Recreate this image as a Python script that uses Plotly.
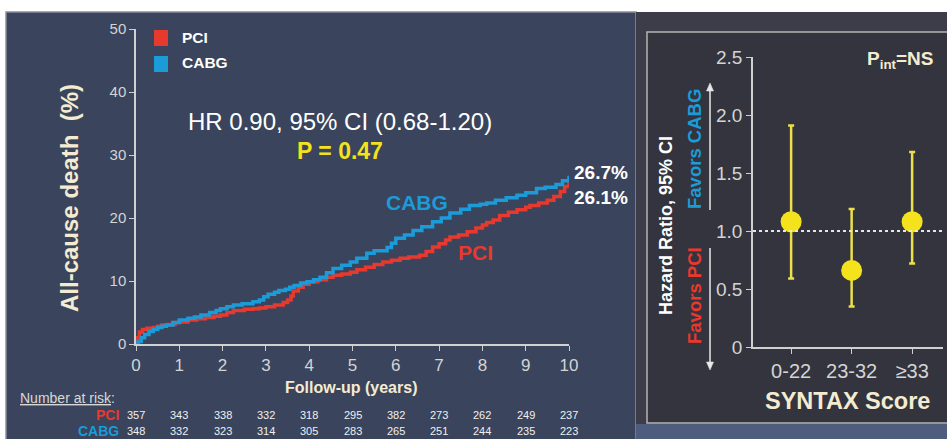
import plotly.graph_objects as go

W, H = 947, 439

# Kaplan-Meier curves: all-cause death (%) over follow-up (years)
pci_years = [0.0, 0.03, 0.08, 0.15, 0.25, 0.4, 0.5, 0.6, 0.75, 0.9, 1.0, 1.2, 1.4, 1.6, 1.8, 1.95,
             2.1, 2.25, 2.5, 2.7, 2.85, 3.0, 3.2, 3.4, 3.5, 3.58, 3.63, 3.75, 3.86, 4.0, 4.2, 4.4,
             4.55, 4.75, 4.95, 5.1, 5.3, 5.5, 5.7, 5.9, 6.1, 6.3, 6.55, 6.7, 6.85, 7.0, 7.15, 7.25,
             7.45, 7.65, 7.85, 8.0, 8.1, 8.25, 8.4, 8.6, 8.8, 9.0, 9.1, 9.3, 9.5, 9.65, 9.8, 9.9, 10.0]
pci_death = [0.0, 1.0, 1.9, 2.3, 2.5, 2.6, 2.8, 3.0, 3.1, 3.4, 3.5, 3.8, 4.0, 4.2, 4.4, 4.6,
             5.0, 5.3, 5.5, 5.6, 5.7, 5.9, 6.2, 6.6, 7.0, 7.6, 8.4, 9.0, 9.5, 9.9, 10.2, 10.6,
             10.9, 11.1, 11.4, 11.8, 12.2, 12.6, 13.0, 13.3, 13.6, 13.8, 14.1, 14.7, 15.4, 15.9, 16.5, 17.0,
             17.3, 17.8, 18.4, 18.9, 19.3, 19.7, 20.4, 20.9, 21.3, 21.7, 22.0, 22.4, 22.8, 23.4, 24.2, 25.0, 26.1]

cabg_years = [0.0, 0.05, 0.12, 0.2, 0.3, 0.4, 0.5, 0.6, 0.7, 0.85, 1.0, 1.2, 1.35, 1.5, 1.7, 1.85,
              1.95, 2.1, 2.25, 2.45, 2.7, 2.85, 2.95, 3.05, 3.2, 3.3, 3.45, 3.55, 3.65, 3.8, 3.95, 4.1,
              4.25, 4.4, 4.55, 4.75, 4.95, 5.1, 5.33, 5.5, 5.8, 5.9, 6.0, 6.2, 6.4, 6.6, 6.85, 7.05,
              7.25, 7.5, 7.7, 7.95, 8.1, 8.3, 8.55, 8.8, 9.0, 9.25, 9.45, 9.7, 9.85, 10.0]
cabg_death = [0.0, 0.4, 1.0, 1.5, 2.0, 2.3, 2.6, 2.8, 3.0, 3.4, 3.8, 4.1, 4.3, 4.6, 5.0, 5.3,
              5.6, 5.9, 6.2, 6.4, 6.7, 7.0, 7.5, 7.9, 8.2, 8.5, 8.7, 9.0, 9.3, 9.7, 9.9, 10.2,
              10.6, 11.3, 12.0, 12.5, 13.0, 13.6, 14.4, 14.8, 15.3, 16.0, 16.8, 17.3, 18.0, 18.6, 19.4, 20.0,
              20.8, 21.4, 22.0, 22.2, 22.4, 22.8, 23.2, 23.6, 24.0, 24.7, 24.9, 25.3, 25.9, 26.7]

# Number at risk table
risk_years = [0, 1, 2, 3, 4, 5, 6, 7, 8, 9, 10]
risk_pci = [357, 343, 338, 332, 318, 295, 382, 273, 262, 249, 237]
risk_cabg = [348, 332, 323, 314, 305, 283, 265, 251, 244, 235, 223]

# Hazard ratios by SYNTAX score tercile
syntax_groups = ["0-22", "23-32", "≥33"]
hr = [1.08, 0.66, 1.08]
ci_low = [0.59, 0.35, 0.72]
ci_high = [1.91, 1.19, 1.68]

RED = "#e8392e"
BLUE = "#1b9bd8"
YELLOW = "#f3e21c"
CREAM = "#f3ecd2"
TICK = "#d4d4d4"
ARROW = "#e8e8e8"


def px(x):
    return x / W


def py(y):
    return 1 - y / H


fig = go.Figure()

fig.add_trace(go.Scatter(x=pci_years, y=pci_death, mode="lines", line=dict(color=RED, width=3.5, shape="hv"),
                         name="PCI", xaxis="x", yaxis="y", showlegend=False))
fig.add_trace(go.Scatter(x=cabg_years, y=cabg_death, mode="lines", line=dict(color=BLUE, width=3.5, shape="hv"),
                         name="CABG", xaxis="x", yaxis="y", showlegend=False))

fig.add_trace(go.Scatter(
    x=syntax_groups, y=hr, mode="markers",
    marker=dict(color=YELLOW, size=21),
    error_y=dict(type="data", symmetric=False,
                 array=[h - m for h, m in zip(ci_high, hr)],
                 arrayminus=[m - l for m, l in zip(hr, ci_low)],
                 color="#ebe04a", thickness=2.5, width=3),
    xaxis="x2", yaxis="y2", showlegend=False))


def arrow_path(x, y_tail, y_head):
    # vertical arrow: shaft plus a small filled head, in paper coordinates
    d = 1 if y_head < y_tail else -1
    shaft = dict(type="line", xref="paper", yref="paper", x0=px(x), x1=px(x),
                 y0=py(y_tail), y1=py(y_head + d * 6), line=dict(color=ARROW, width=1.5))
    head = dict(type="path", xref="paper", yref="paper",
                path=f"M {px(x - 3.5)} {py(y_head + d * 8)} L {px(x + 3.5)} {py(y_head + d * 8)} "
                     f"L {px(x)} {py(y_head)} Z",
                fillcolor=ARROW, line=dict(color=ARROW, width=0.5))
    return [shaft, head]


shapes = [
    # left panel
    dict(type="rect", xref="paper", yref="paper", x0=px(6), x1=px(636), y0=py(441), y1=py(12),
         fillcolor="#3a445c", line=dict(color="#8a8f9a", width=1.5), layer="below"),
    # right panel
    dict(type="rect", xref="paper", yref="paper", x0=px(636), x1=px(948), y0=py(441), y1=py(12),
         fillcolor="#3c3d48", line=dict(width=0), layer="below"),
    dict(type="rect", xref="paper", yref="paper", x0=px(636), x1=px(948), y0=py(441), y1=py(424),
         fillcolor="#4e5d7d", line=dict(width=0), layer="below"),
    dict(type="rect", xref="paper", yref="paper", x0=px(647), x1=px(950), y0=py(423), y1=py(32),
         fillcolor="#33343e", line=dict(color="#b4b4b4", width=1.5), layer="below"),
    # reference line at HR = 1
    dict(type="line", xref="paper", yref="y2", x0=px(753), x1=px(945), y0=1, y1=1,
         line=dict(color="#e6e6e6", width=2, dash="dot")),
    # legend swatches
    dict(type="rect", xref="paper", yref="paper", x0=px(154), x1=px(168), y0=py(46), y1=py(30),
         fillcolor=RED, line=dict(width=0)),
    dict(type="rect", xref="paper", yref="paper", x0=px(154), x1=px(168), y0=py(72), y1=py(56),
         fillcolor=BLUE, line=dict(width=0)),
]
shapes += arrow_path(710, 210, 83)
shapes += arrow_path(710, 248, 370)

ann = []


def text(x, y, s, size, color, bold=False, angle=0, xanchor="center", family="Arial"):
    ann.append(dict(x=px(x), y=py(y), xref="paper", yref="paper", text=f"<b>{s}</b>" if bold else s,
                    showarrow=False, xanchor=xanchor, yanchor="middle", textangle=angle,
                    font=dict(size=size, color=color, family=family)))


# left chart texts
text(69, 198, "All-cause death  (%)", 24, CREAM, bold=True, angle=-90)
text(351, 387, "Follow-up (years)", 16, CREAM, bold=True)
text(180, 37, "PCI", 15.5, "#ffffff", bold=True, xanchor="left")
text(180, 63, "CABG", 15.5, "#ffffff", bold=True, xanchor="left")
text(340, 122, "HR 0.90, 95% CI (0.68-1.20)", 24, "#ffffff")
text(340, 151, "P = 0.47", 23, YELLOW, bold=True)
text(417, 202, "CABG", 21, BLUE, bold=True)
text(475, 252, "PCI", 21, RED, bold=True)
text(572, 172, f"{cabg_death[-1]:.1f}%", 19, "#ffffff", bold=True, xanchor="left")
text(572, 197, f"{pci_death[-1]:.1f}%", 19, "#ffffff", bold=True, xanchor="left")

text(18, 398, "<u>Number at risk</u>:", 14, "#d8d8d8", xanchor="left")
text(121, 415, "PCI", 14, RED, bold=True, xanchor="right")
text(121, 431, "CABG", 14, BLUE, bold=True, xanchor="right")
for yr, a, b in zip(risk_years, risk_pci, risk_cabg):
    for val, ypos in ((a, 415), (b, 431)):
        ann.append(dict(x=yr, y=py(ypos), xref="x", yref="paper", text=str(val), showarrow=False,
                        xanchor="center", yanchor="middle",
                        font=dict(size=11, color="#f0f0f0", family="Arial")))

# right chart texts
text(666, 226, "Hazard Ratio, 95% CI", 18, "#ffffff", bold=True, angle=-90)
text(694, 149, "Favors CABG", 18.5, BLUE, bold=True, angle=-90)
text(694, 296, "Favors PCI", 18.5, RED, bold=True, angle=-90)
text(900, 60, "P<sub>int</sub>=NS", 19, CREAM, bold=True)
text(847, 401, "SYNTAX Score", 23.5, CREAM, bold=True)

axis_common = dict(showgrid=False, zeroline=False, showline=True, linecolor="#d0d0d0", linewidth=1.5,
                   ticks="outside", ticklen=5, tickcolor="#d0d0d0", tickwidth=1.2, fixedrange=True,
                   automargin=False)

fig.update_layout(
    width=W, height=H, margin=dict(l=0, r=0, t=0, b=0, pad=0, autoexpand=False),
    paper_bgcolor="#ffffff", plot_bgcolor="rgba(0,0,0,0)",
    shapes=shapes, annotations=ann, showlegend=False,
    xaxis=dict(domain=[px(136), px(569)], range=[0, 10], anchor="y", tickvals=risk_years,
               tickfont=dict(size=17, color=TICK, family="Arial"), **axis_common),
    yaxis=dict(domain=[py(344), py(29)], range=[0, 50], anchor="x", tickvals=[0, 10, 20, 30, 40, 50],
               tickfont=dict(size=15, color=TICK, family="Arial"), **axis_common),
    xaxis2=dict(domain=[px(753), px(943)], range=[-0.63, 2.51], type="category", anchor="y2",
                tickfont=dict(size=20, color=TICK, family="Arial"), **axis_common),
    yaxis2=dict(domain=[py(347), py(57)], range=[0, 2.5], anchor="x2",
                tickvals=[0, 0.5, 1.0, 1.5, 2.0, 2.5], ticktext=["0", "0.5", "1.0", "1.5", "2.0", "2.5"],
                tickfont=dict(size=19, color=TICK, family="Arial"), **axis_common),
)

fig.write_html("out.html", config={"displayModeBar": False})
